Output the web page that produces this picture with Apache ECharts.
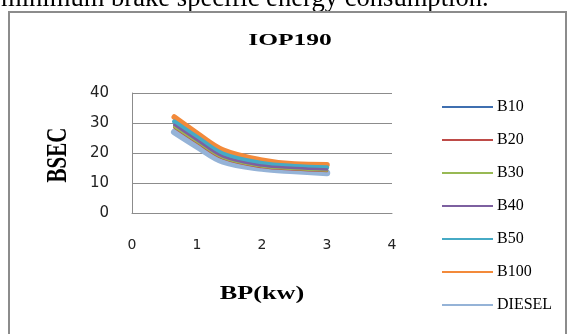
<!DOCTYPE html>
<html>
<head>
<meta charset="utf-8">
<script src="https://cdn.jsdelivr.net/npm/echarts@6/dist/echarts.min.js"></script>
<style>html,body{margin:0;padding:0;background:#fff}#c{width:568px;height:334px}</style>
</head>
<body>
<div id="c"></div>
<script>
var xValues = [0.65, 1.0, 1.4, 2.0, 2.5, 3.0];
var B10    = [29.0, 24.0, 18.6, 15.6, 14.8, 14.3];
var B20    = [28.5, 23.5, 18.2, 15.3, 14.5, 14.0];
var B30    = [28.8, 23.8, 18.4, 15.5, 14.7, 14.2];
var B40    = [29.4, 24.3, 18.8, 15.8, 15.0, 14.5];
var B50    = [30.5, 25.3, 19.7, 16.6, 15.6, 15.2];
var B100   = [32.0, 26.6, 21.0, 17.6, 16.3, 16.1];
var DIESEL = [27.0, 22.2, 17.2, 14.8, 14.0, 13.3];
var yTicks = [0, 10, 20, 30, 40];
var xTicks = [0, 1, 2, 3, 4];
var names  = ['B10','B20','B30','B40','B50','B100','DIESEL'];
var titleText = 'IOP190';
var xName = 'BP(kw)';
var yName = 'BSEC';
var caption = 'minimum brake specific energy consumption.';
var colors = ['#3F6FB0','#BE4B48','#98B954','#7D60A0','#46AAC5','#F38A3A','#95B3D7'];
var widths = [2.5, 2.5, 2.5, 2.5, 4.5, 5.5, 6.5];
var zs     = [5, 5, 5, 5, 4, 3, 2];
var seriesData = [B10, B20, B30, B40, B50, B100, DIESEL];

function pairs(arr){ return xValues.map(function(x,i){ return [x, arr[i]]; }); }

var chart = echarts.init(document.getElementById('c'), null, {renderer:'canvas'});
var serif = '"Liberation Serif","Times New Roman",serif';
var series = names.map(function(n,i){
  return {
    name: n, type: 'line', smooth: 0.35, showSymbol: false, symbol: 'none',
    z: zs[i], data: pairs(seriesData[i]),
    lineStyle: {color: colors[i], width: widths[i], cap:'round', join:'round'},
    itemStyle: {color: colors[i]}
  };
});
chart.setOption({
  animation: false,
  backgroundColor: '#fff',
  graphic: [
    {type:'text', left: 1, top: -14, style:{text:caption, font:'26.6px ' + serif, fill:'#000'}},
    {type:'rect', shape:{x:9, y:12, width:557, height:340}, style:{fill:'none', stroke:'#8c8c8c', lineWidth:2}},
    {type:'text', x:290, y:41, scaleX:1.5, style:{text:titleText, font:'bold 17px ' + serif, fill:'#000', align:'center', verticalAlign:'middle'}},
    {type:'text', x:262, y:294, scaleX:1.38, style:{text:xName, font:'bold 19px ' + serif, fill:'#000', align:'center', verticalAlign:'middle'}},
    {type:'text', x:58, y:155, rotation:Math.PI/2, scaleY:1.45, style:{text:yName, font:'bold 21px ' + serif, fill:'#000', align:'center', verticalAlign:'middle'}}
  ],
  grid: {left:132, right:176, top:93, bottom:121, containLabel:false},
  legend: {
    orient:'vertical', left: 437, top: 94, itemWidth: 51, itemHeight: 2, itemGap: 17,
    icon: 'rect', data: names,
    textStyle:{fontFamily:serif, fontSize:16, color:'#000', lineHeight:16, padding:[0,0,0,-1]}
  },
  xAxis: {
    type:'value', min:0, max:4, interval:1,
    axisLine:{show:true, lineStyle:{color:'#8c8c8c', width:1}},
    axisTick:{show:false},
    splitLine:{show:false},
    axisLabel:{margin:25, fontFamily:'"DejaVu Sans",sans-serif', fontSize:14, color:'#222',
      formatter:function(v){ return xTicks.indexOf(v) >= 0 ? String(v) : ''; }}
  },
  yAxis: {
    type:'value', min:0, max:40, interval:10,
    axisLine:{show:true, lineStyle:{color:'#8c8c8c', width:1}},
    axisTick:{show:false},
    splitLine:{show:true, lineStyle:{color:'#8c8c8c', width:1}},
    axisLabel:{margin:23, fontFamily:'"DejaVu Sans",sans-serif', fontSize:15, color:'#222',
      formatter:function(v){ return yTicks.indexOf(v) >= 0 ? String(v) : ''; }}
  },
  series: series
});
</script>
</body>
</html>
